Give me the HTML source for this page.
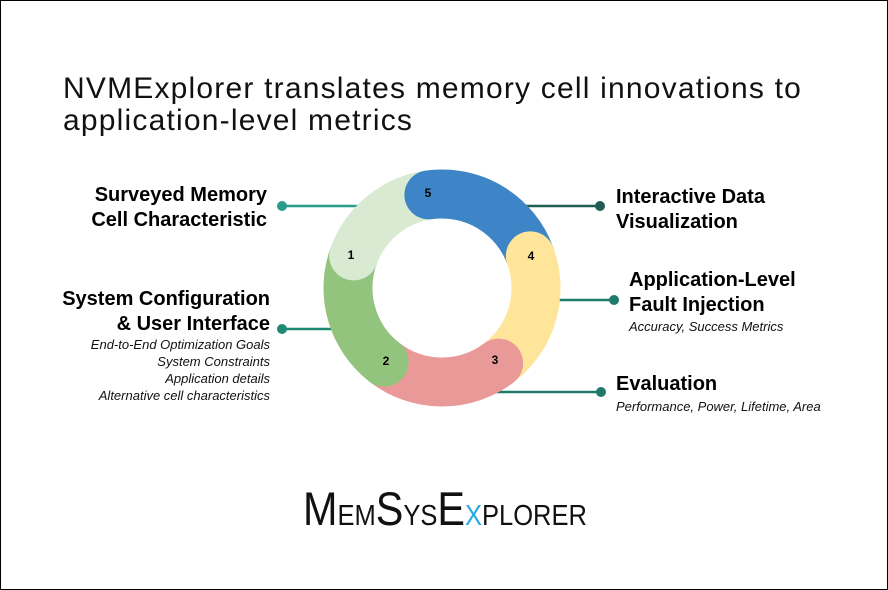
<!DOCTYPE html>
<html><head><meta charset="utf-8"><style>
body{margin:0;width:888px;height:590px;overflow:hidden;background:#fff;font-family:"Liberation Sans",sans-serif}
.frame{position:absolute;left:0;top:0;width:886px;height:588px;border:1px solid #000}
.t{position:absolute;color:#000;white-space:nowrap}
.h{font-weight:bold;font-size:20px;line-height:25px}
.s{font-style:italic;font-size:13px;line-height:17px;color:#111}
.r{text-align:right}
</style></head><body>
<div class="frame"></div>
<div class="t" style="left:63px;top:73px;font-size:30px;line-height:32px;letter-spacing:1.2px;color:#111">NVMExplorer translates memory cell innovations to<br>application-level metrics</div>
<svg width="888" height="590" style="position:absolute;left:0;top:0">
<g stroke-width="2.5">
<line x1="282" y1="206" x2="360" y2="206" stroke="#2a9d8a"/>
<line x1="282" y1="329" x2="332" y2="329" stroke="#1f8a74"/>
<line x1="525" y1="206" x2="600" y2="206" stroke="#1f5c52"/>
<line x1="556" y1="300" x2="614" y2="300" stroke="#1f7a6a"/>
<line x1="490" y1="392" x2="601" y2="392" stroke="#1f7a6a"/>
</g>
<circle cx="282" cy="206" r="5" fill="#2a9d8a"/>
<circle cx="282" cy="329" r="5" fill="#1f8a74"/>
<circle cx="600" cy="206" r="5" fill="#1f5c52"/>
<circle cx="614" cy="300" r="5" fill="#1f7a6a"/>
<circle cx="601" cy="392" r="5" fill="#1f7a6a"/>
<g fill="none" stroke-width="49">
<circle cx="442" cy="288" r="94" stroke="#d9ead3" stroke-dasharray="101.7 1000" transform="rotate(200 442 288)"/>
<circle cx="442" cy="288" r="94" stroke="#3d85c6" stroke-dasharray="128 1000" transform="rotate(262 442 288)"/>
<circle cx="442" cy="288" r="94" stroke="#ffe599" stroke-dasharray="119.8 1000" transform="rotate(340 442 288)"/>
<circle cx="442" cy="288" r="94" stroke="#ea9999" stroke-dasharray="123 1000" transform="rotate(53 442 288)"/>
<circle cx="442" cy="288" r="94" stroke="#93c47d" stroke-dasharray="118.1 1000" transform="rotate(128 442 288)"/>
</g>
<circle cx="353.7" cy="255.9" r="24.5" fill="#d9ead3"/>
<circle cx="428.9" cy="194.9" r="24.5" fill="#3d85c6"/>
<circle cx="530.3" cy="255.9" r="24.5" fill="#ffe599"/>
<circle cx="498.6" cy="363.1" r="24.5" fill="#ea9999"/>
<circle cx="384.1" cy="362.1" r="24.5" fill="#93c47d"/>
<g font-family="Liberation Sans, sans-serif" font-weight="bold" font-size="12" fill="#000" text-anchor="middle">
<text x="351" y="259">1</text>
<text x="386" y="365">2</text>
<text x="495" y="364">3</text>
<text x="531" y="260">4</text>
<text x="428" y="197">5</text>
</g>
</svg>
<div class="t h r" style="right:621px;top:183px">Surveyed Memory<br>Cell Characteristic</div>
<div class="t h r" style="right:618px;top:287px">System Configuration<br>&amp; User Interface</div>
<div class="t s r" style="right:618px;top:336px">End-to-End Optimization Goals<br>System Constraints<br>Application details<br>Alternative cell characteristics</div>
<div class="t h" style="left:616px;top:185px">Interactive Data<br>Visualization</div>
<div class="t h" style="left:629px;top:268px">Application-Level<br>Fault Injection</div>
<div class="t s" style="left:629px;top:318px">Accuracy, Success Metrics</div>
<div class="t h" style="left:616px;top:372px">Evaluation</div>
<div class="t s" style="left:616px;top:398px">Performance, Power, Lifetime, Area</div>
<div class="t" style="left:303px;top:482px;font-size:29px;line-height:54px;color:#111;transform:scaleX(0.88);transform-origin:left top"><span style="font-size:47px">M</span>EM<span style="font-size:47px">S</span>YS<span style="font-size:47px">E</span><span style="color:#29a8e0">X</span>PLORER</div>
</body></html>
